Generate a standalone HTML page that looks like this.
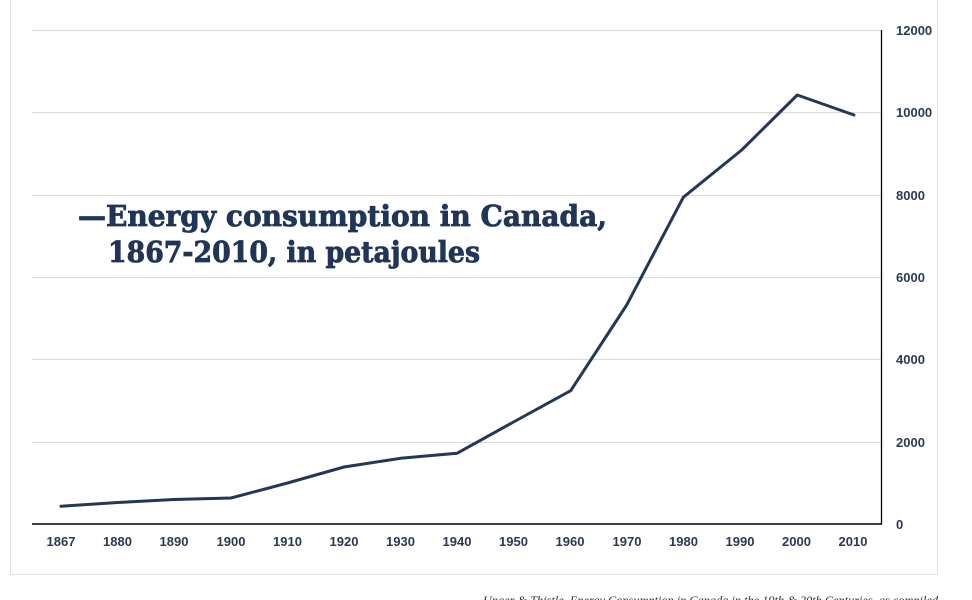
<!DOCTYPE html>
<html>
<head>
<meta charset="utf-8">
<style>
html,body{margin:0;padding:0;background:#fff;}
body{width:972px;height:600px;overflow:hidden;}
svg{display:block;}
</style>
</head>
<body>
<svg width="972" height="600" viewBox="0 0 972 600" xmlns="http://www.w3.org/2000/svg">
  <!-- outer frame -->
  <rect x="10.5" y="-5" width="927" height="579.5" fill="#fff" stroke="#e0e0e0" stroke-width="1"/>
  <!-- gridlines -->
  <g stroke="#d9d9d9" stroke-width="1">
    <line x1="32" y1="30.5" x2="881" y2="30.5"/>
    <line x1="32" y1="112.5" x2="881" y2="112.5"/>
    <line x1="32" y1="195.5" x2="881" y2="195.5"/>
    <line x1="32" y1="277.5" x2="881" y2="277.5"/>
    <line x1="32" y1="359.5" x2="881" y2="359.5"/>
    <line x1="32" y1="442.5" x2="881" y2="442.5"/>
  </g>
  <!-- axes -->
  <line x1="881.5" y1="30" x2="881.5" y2="524.5" stroke="#000" stroke-width="1.3"/>
  <line x1="32" y1="524" x2="882" y2="524" stroke="#000" stroke-width="1.5"/>
  <!-- y labels -->
  <g font-family="Liberation Sans, sans-serif" font-weight="bold" font-size="13" fill="#2b3a52">
    <text x="896" y="35">12000</text>
    <text x="896" y="117">10000</text>
    <text x="896" y="200">8000</text>
    <text x="896" y="282">6000</text>
    <text x="896" y="364">4000</text>
    <text x="896" y="447">2000</text>
    <text x="896" y="529">0</text>
  </g>
  <!-- x labels -->
  <g font-family="Liberation Sans, sans-serif" font-weight="bold" font-size="13" fill="#2b3a52" text-anchor="middle">
    <text x="61" y="546">1867</text>
    <text x="117.5" y="546">1880</text>
    <text x="174" y="546">1890</text>
    <text x="231" y="546">1900</text>
    <text x="287.5" y="546">1910</text>
    <text x="344" y="546">1920</text>
    <text x="400.5" y="546">1930</text>
    <text x="457" y="546">1940</text>
    <text x="513.5" y="546">1950</text>
    <text x="570" y="546">1960</text>
    <text x="627" y="546">1970</text>
    <text x="683.5" y="546">1980</text>
    <text x="740" y="546">1990</text>
    <text x="796.5" y="546">2000</text>
    <text x="853" y="546">2010</text>
  </g>
  <!-- data line -->
  <polyline fill="none" stroke="#243757" stroke-width="3" stroke-linejoin="round" stroke-linecap="round"
    points="61,506.3 117.5,502.5 174,499.5 231,498 287.5,483 344,467 400.5,458.3 457,453.3 513.5,422 570.7,390.7 626.7,305 683.3,197.3 741.7,150 797.3,95 854,115"/>
  <!-- title -->
  <g font-family="DejaVu Serif, Liberation Serif, serif" font-weight="bold" fill="#203558" stroke="#203558" stroke-width="0.8">
    <text x="78" y="226" font-size="29" textLength="529" lengthAdjust="spacingAndGlyphs">—Energy consumption in Canada,</text>
    <text x="108" y="262" font-size="29" textLength="372" lengthAdjust="spacingAndGlyphs">1867-2010, in petajoules</text>
  </g>
  <!-- citation -->
  <text x="483" y="604" font-family="Liberation Serif, serif" font-style="italic" font-size="12" fill="#333" textLength="455" lengthAdjust="spacingAndGlyphs">Unger &amp; Thistle, Energy Consumption in Canada in the 19th &amp; 20th Centuries, as compiled</text>
</svg>
</body>
</html>
